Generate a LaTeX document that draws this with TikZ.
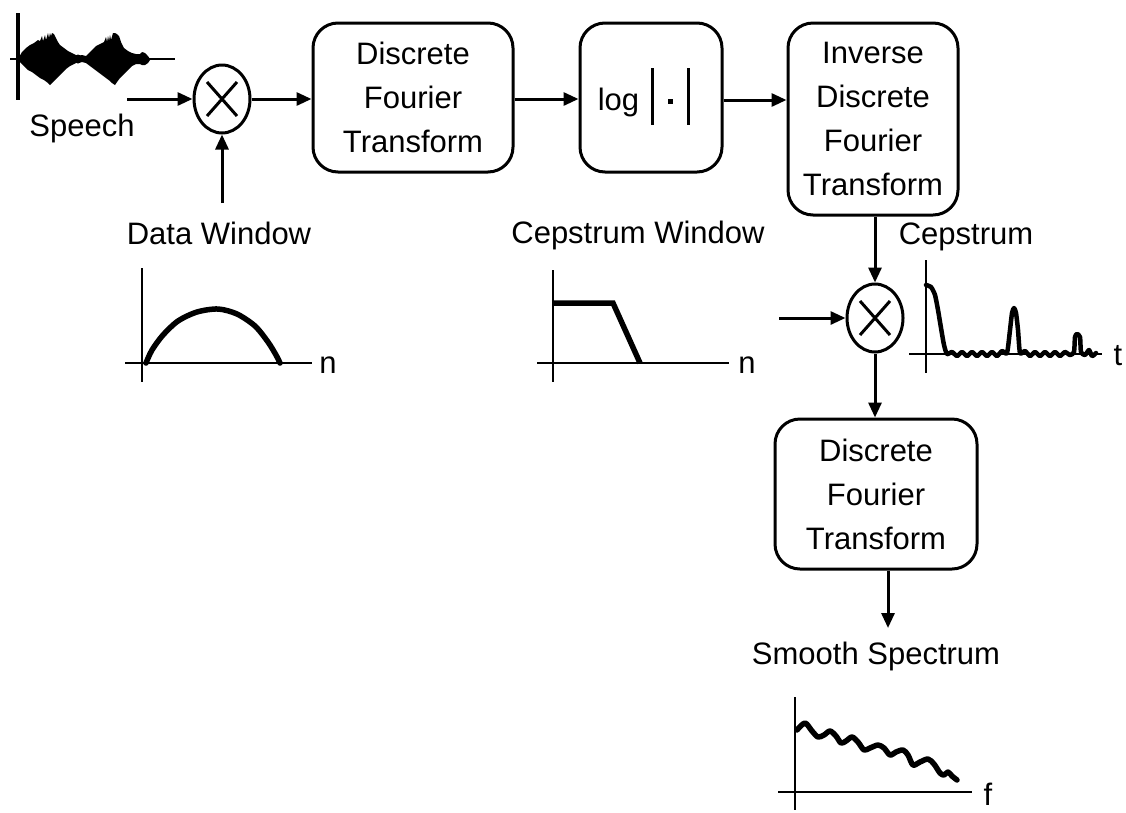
\documentclass[tikz,border=0pt]{standalone}
\usepackage{fontspec}
\setmainfont{Liberation Sans}
\usetikzlibrary{arrows.meta,shapes.geometric}
\begin{document}
\begin{tikzpicture}[x=1pt,y=-1pt,
  every node/.style={font=\fontsize{31}{44}\selectfont, inner sep=0pt},
  blk/.style={draw, line width=3pt, rounded corners=25pt, align=center},
  mult/.style={draw, ellipse, line width=3pt, minimum width=56pt, minimum height=68pt,
    path picture={\draw[line width=3pt]
      ([xshift=-15pt,yshift=-17pt]path picture bounding box.center) -- ([xshift=15pt,yshift=17pt]path picture bounding box.center)
      ([xshift=-15pt,yshift=17pt]path picture bounding box.center) -- ([xshift=15pt,yshift=-17pt]path picture bounding box.center);}},
  conn/.style={line width=3pt, -{Triangle[length=15pt,width=13pt]}},
  axis/.style={line width=2.5pt},
  curve/.style={line width=5.5pt, line join=round, line cap=round},
]
\fill[white] (0,0) rectangle (1126,812);
\useasboundingbox (0,0) rectangle (1126,812);

% ---- speech waveform ----
\draw[line width=3.5pt] (18,13) -- (18,100);
\draw[line width=2.5pt] (10,59) -- (175,59);
\fill plot[sharp plot] coordinates {
 (18,59) (22,52) (26,48) (30,45) (34,43) (38,40) (40,41) (42,36) (43,41) (45,35) (46,40) (48,33) (49,38) (50,33) (51,36) (52,33) (54,34) (56,38) (58,42) (60,45) (64,48) (68,51) (72,53) (76,55) (78,56) (82,55) (86,56) (88,54) (92,50) (96,46) (100,44) (104,42) (106,37) (107,42) (108,36) (109,41) (110,35) (111,40) (113,33) (115,33) (117,34) (119,36) (121,42) (124,48) (128,51) (132,53) (136,54) (140,54) (142,52) (145,53) (148,56) (150,59)
 (150,60) (148,63) (145,65) (142,65) (140,64) (136,64) (132,66) (128,70) (124,74) (120,78) (117,82) (115,85) (112,83) (110,81) (106,78) (102,75) (98,72) (94,69) (90,66) (86,63) (82,62) (78,62) (74,64) (70,66) (66,69) (62,73) (58,77) (55,80) (52,83) (50,85) (48,83) (44,80) (40,78) (36,75) (32,72) (28,70) (24,66) (20,62) (18,59)} -- cycle;
\fill (78,59) circle (4.5);
\fill (143,58) ellipse (4.5 and 5.5);
\node (speech) at (82,128) {Speech};

% ---- blocks ----
\node[mult] (m1) at (222,99) {};
\node[blk, minimum width=200pt, minimum height=149pt] (dft1) at (413,97.5) {Discrete\\Fourier\\Transform};
\node[blk, minimum width=142pt, minimum height=149pt] (log) at (651,97.5) {};
\node (logtxt) at (644,96) {log\hspace{12pt}\rule[-14pt]{3pt}{57pt}\hspace{14pt}\raisebox{7pt}{\rule{5pt}{5pt}}\hspace{14pt}\rule[-14pt]{3pt}{57pt}};
\node[blk, minimum width=170pt, minimum height=192pt] (idft) at (873,119) {Inverse\\Discrete\\Fourier\\Transform};
\node[mult] (m2) at (875,318) {};
\node[blk, minimum width=202pt, minimum height=150pt] (dft2) at (876,494) {Discrete\\Fourier\\Transform};

% ---- connectors ----
\coordinate (sin) at (127,99);
\coordinate (win) at (222,203);
\coordinate (cin) at (779,318);
\coordinate (sout) at (888,628);
\draw[conn] (sin) -- (m1.west);
\draw[conn] (win) -- (m1.south);
\draw[conn] (m1.east) -- (dft1.west |- m1.east);
\draw[conn] (dft1.east |- m1.east) -- (log.west |- m1.east);
\draw[conn] (log.east |- 0,100) -- (idft.west |- 0,100);
\draw[conn] (m2.north |- idft.south) -- (m2.north);
\draw[conn] (cin) -- (m2.west);
\draw[conn] (m2.south) -- (m2.south |- dft2.north);
\draw[conn] (sout |- dft2.south) -- (sout);

% ---- labels ----
\node (dwl) at (219,233) {Data Window};
\node (cwl) at (638,235) {Cepstrum Window};
\node (cepl) at (966,237) {Cepstrum};
\node (ssl) at (876,656) {Smooth Spectrum};

% ---- data window plot ----
\draw[axis] (142,268) -- (142,382);
\draw[axis] (125,363) -- (312,363);
\node (dn) at (328,365) {n};
\draw[curve] plot[smooth] coordinates {(146,363) (152,350) (163,335) (178,321) (197,312) (218,309) (237,314) (255,326) (268,342) (276,355) (280,363)};

% ---- cepstrum window plot ----
\draw[axis] (553,270) -- (553,382);
\draw[axis] (537,363) -- (729,363);
\node (cn) at (747,365) {n};
\draw[curve, line cap=butt, line join=miter] (553,303) -- (613,303) -- (640,363);

% ---- cepstrum plot ----
\draw[axis] (926,260) -- (926,373);
\draw[axis] (909,354) -- (1102,354);
\node (ct) at (1118,356) {t};
\draw[curve, line width=4.5pt] plot[smooth, tension=0.4] coordinates {
 (926,285) (931,287) (935,295) (938,310) (941,328) (944,345) (947,354)
 (952,352) (957,356) (962,352) (967,356) (972,352) (977,356) (982,352) (987,356) (992,352) (997,356) (1002,351) (1007,353)
 (1010,330) (1012,313) (1014,308) (1016,313) (1018,330) (1020,353)
 (1025,351) (1030,356) (1035,352) (1040,356) (1045,352) (1050,356) (1055,352) (1060,356) (1065,352) (1070,355) (1074,352)
 (1075,337) (1077,334) (1080,337) (1081,352)
 (1085,355) (1089,350) (1092,356) (1096,353)};

% ---- smooth spectrum plot ----
\draw[axis] (795,697) -- (795,810);
\draw[axis] (778,792) -- (972,792);
\node (sf) at (988,794) {f};
\draw[curve] plot[smooth] coordinates {
 (797,730) (805,723) (812,731) (818,737) (824,735) (830,731) (836,736) (841,743) (846,741) (852,737) (858,742) (864,750) (870,748) (878,745) (884,748) (890,755) (896,752) (903,750) (908,755) (913,765) (920,762) (928,759) (934,764) (940,773) (944,775) (948,772) (952,776) (957,780)};
\end{tikzpicture}
\end{document}
